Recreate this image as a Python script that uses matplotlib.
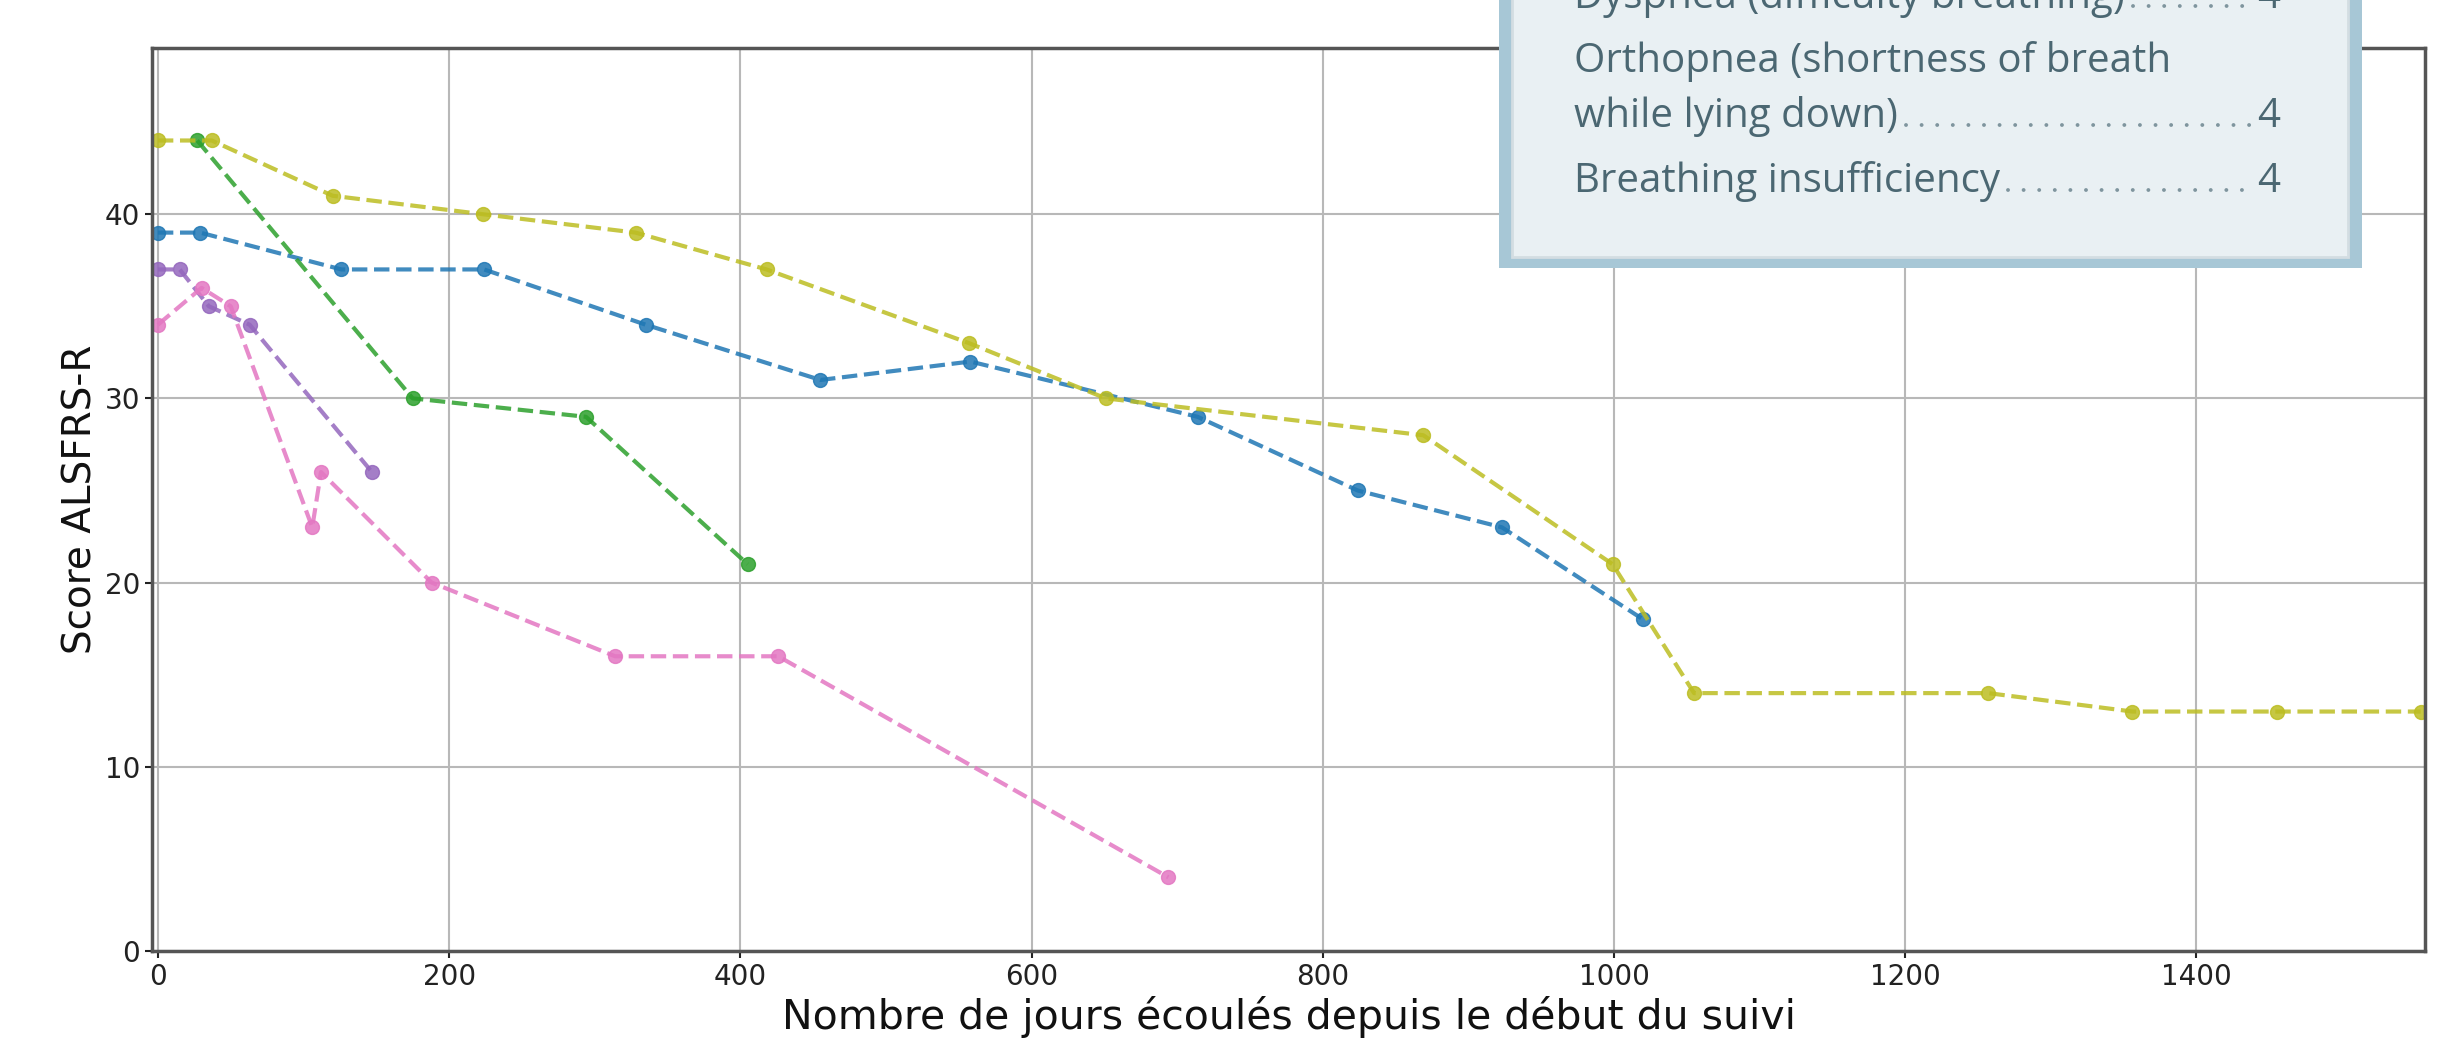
import matplotlib
matplotlib.use('Agg')
import matplotlib.pyplot as plt
from matplotlib.patches import Rectangle
from matplotlib.lines import Line2D

# jours de suivi / score ALSFRS-R pour chaque patient
jours_bleu = [0, 29, 126, 224, 335, 455, 558, 714, 824, 923, 1020]
score_bleu = [39, 39, 37, 37, 34, 31, 32, 29, 25, 23, 18]

jours_vert = [27, 175, 294, 405]
score_vert = [44, 30, 29, 21]

jours_violet = [0, 15, 35, 63, 147]
score_violet = [37, 37, 35, 34, 26]

jours_rose = [0, 30, 50, 106, 112, 188, 314, 426, 694]
score_rose = [34, 36, 35, 23, 26, 20, 16, 16, 4]

jours_olive = [0, 37, 120, 223, 328, 418, 557, 651, 869, 999, 1055, 1257, 1356, 1455, 1554]
score_olive = [44, 44, 41, 40, 39, 37, 33, 30, 28, 21, 14, 14, 13, 13, 13]

encart_lignes = ["Dyspnea (difficulty breathing)", "Orthopnea (shortness of breath",
                 "while lying down)", "Breathing insufficiency"]
encart_valeurs = ["4", "", "4", "4"]

fig = plt.figure(figsize=(24.53, 10.52), dpi=100)
ax = fig.add_axes([0.062, 0.096, 0.9266, 0.858])

series = [(jours_bleu, score_bleu, 'tab:blue'),
          (jours_vert, score_vert, 'tab:green'),
          (jours_violet, score_violet, 'tab:purple'),
          (jours_rose, score_rose, 'tab:pink'),
          (jours_olive, score_olive, 'tab:olive')]
for x, y, c in series:
    ax.plot(x, y, '--o', color=c, lw=3, ms=10, alpha=0.85)

ax.set_xlim(-4, 1557)
ax.set_ylim(0, 49)
ax.set_xticks([0, 200, 400, 600, 800, 1000, 1200, 1400])
ax.set_yticks([0, 10, 20, 30, 40])
ax.grid(True, color='#b8b8b8', lw=1.5)
ax.tick_params(labelsize=20, width=1.5, length=5, colors='#222222')
for s in ax.spines.values():
    s.set_color('#555555')
    s.set_linewidth(2.5)
ax.set_xlabel("Nombre de jours écoulés depuis le début du suivi", fontsize=29.5, color='#111111')
ax.set_ylabel("Score ALSFRS-R", fontsize=28, color='#111111')

# encart collé par-dessus le graphique (coupé en haut)
W, H = 2453, 1052
def fx(px):
    return px / W
def fy(py):
    return 1 - py / H

fig.patches.append(Rectangle((fx(1499), fy(268)), fx(2362) - fx(1499), fy(-20) - fy(268),
                             transform=fig.transFigure, facecolor='#a7c7d6',
                             edgecolor='none', zorder=5))
fig.patches.append(Rectangle((fx(1512), fy(257)), fx(2348) - fx(1512), fy(-20) - fy(257),
                             transform=fig.transFigure, facecolor='#e9f0f3',
                             edgecolor='#d3dde2', lw=2, zorder=6))

couleur_txt = '#4b6772'
bases = [8, 72, 127, 192]
textes = []
for txt, val, py in zip(encart_lignes, encart_valeurs, bases):
    t = fig.text(fx(1574), fy(py), txt, fontsize=29, family='Open Sans',
                 color=couleur_txt, va='baseline', ha='left', zorder=7)
    v = None
    if val:
        v = fig.text(fx(2280), fy(py), val, fontsize=29, family='Open Sans',
                     color=couleur_txt, va='baseline', ha='right', zorder=7)
    textes.append((t, v, py))

# points de conduite entre le libellé et la valeur
fig.canvas.draw()
r = fig.canvas.get_renderer()
lw_pt = 2.8
for t, v, py in textes:
    if v is None:
        continue
    x0 = t.get_window_extent(r).x1 + 8
    x1 = v.get_window_extent(r).x0 - 2
    fig.lines.append(Line2D([fx(x0), fx(x1)], [fy(py - 2), fy(py - 2)],
                            transform=fig.transFigure, color='#7f959e', lw=lw_pt,
                            linestyle=(0, (0.01, 11.2 / lw_pt)),
                            dash_capstyle='round', zorder=7))

fig.savefig('out.png', dpi=100)
